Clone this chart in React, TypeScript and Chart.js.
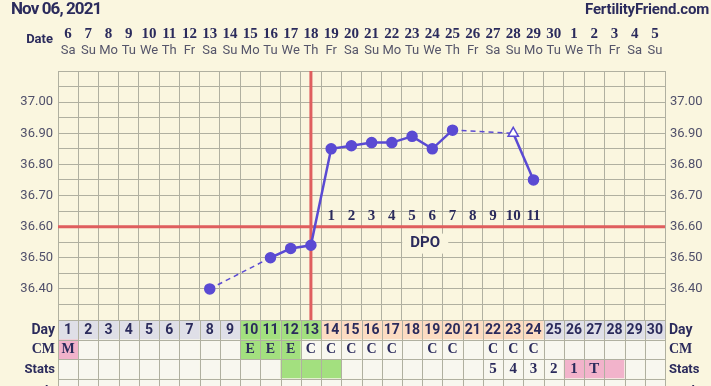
import React, { useEffect, useRef } from 'react';
import { Chart, registerables } from 'chart.js';

Chart.register(...registerables);

// ---- data ----
const headerDate = 'Nov 06, 2021';
const siteName = 'FertilityFriend.com';
const cycleDays = ['1','2','3','4','5','6','7','8','9','10','11','12','13','14','15','16','17','18','19','20','21','22','23','24','25','26','27','28','29','30'];
const calendarDates = ['6','7','8','9','10','11','12','13','14','15','16','17','18','19','20','21','22','23','24','25','26','27','28','29','30','1','2','3','4','5'];
const weekdays = ['Sa','Su','Mo','Tu','We','Th','Fr','Sa','Su','Mo','Tu','We','Th','Fr','Sa','Su','Mo','Tu','We','Th','Fr','Sa','Su','Mo','Tu','We','Th','Fr','Sa','Su'];
const temps: (number | null)[] = [null, null, null, null, null, null, null, 36.40, null, null, 36.50, 36.53, 36.54, 36.85, 36.86, 36.87, 36.87, 36.89, 36.85, 36.91, null, null, 36.90, 36.75, null, null, null, null, null, null];
const openPointDays = [23];
const coverline = 36.60;
const ovulationDay = 13;
const dpoLabels = ['1','2','3','4','5','6','7','8','9','10','11'];
const dpoStartDay = 14;
const yTickMin = 36.30;
const yTickMax = 37.10;
const yStep = 0.05;
// day-row phase: g = grey, f = fertile green, p = post-ovulation peach
const dayPhase = ['g','g','g','g','g','g','g','g','g','f','f','f','f','p','p','p','p','p','p','p','p','p','p','p','g','g','g','g','g','g'];
const cmValues = ['M','','','','','','','','','E','E','E','C','C','C','C','C','','C','C','','C','C','C','','','','','',''];
const cmColors = ['k','','','','','','','','','f','f','f','','','','','','','','','','','','','','','','','',''];
const statsValues = ['','','','','','','','','','','','','','','','','','','','','','5','4','3','2','1','T','','',''];
const statsColors = ['','','','','','','','','','','','f','f','f','','','','','','','','','','','','k','k','k','',''];

// ---- styles ----
const BG = '#faf6df';
const CELL = '#f8f7ef';
const GRID = '#b0b0a0';
const NAVY = '#2b2b5c';
const LINE = '#5a4ad3';
const RED = '#df5e5e';
const GREY = '#dfdfe7';
const GREEN = '#a3e07f';
const PEACH = '#fcdcc2';
const PINK = '#f2b3cb';
const TICK = '#50506a';

const colorFor = (c: string) => (c === 'f' ? GREEN : c === 'p' ? PEACH : c === 'g' ? GREY : c === 'k' ? PINK : CELL);

const decor = {
  id: 'ffDecor',
  beforeDraw(chart: any) {
    const { ctx, width, height } = chart;
    ctx.save();
    ctx.fillStyle = BG;
    ctx.fillRect(0, 0, width, height);
    ctx.restore();
  },
  beforeDatasetsDraw(chart: any) {
    const { ctx, chartArea: a } = chart;
    const xs = chart.scales.x;
    const ys = chart.scales.y;
    const yc = ys.getPixelForValue(coverline);
    const xo = xs.getPixelForValue(ovulationDay - 1);
    ctx.save();
    ctx.strokeStyle = RED;
    ctx.lineWidth = 3;
    ctx.beginPath();
    ctx.moveTo(a.left, yc);
    ctx.lineTo(a.right, yc);
    ctx.moveTo(xo, a.top);
    ctx.lineTo(xo, a.bottom);
    ctx.stroke();
    // DPO numbers
    ctx.fillStyle = NAVY;
    ctx.textAlign = 'center';
    ctx.textBaseline = 'middle';
    ctx.font = "bold 15px 'Liberation Serif'";
    dpoLabels.forEach((t, i) => {
      ctx.fillText(t, xs.getPixelForValue(dpoStartDay - 1 + i), yc - 11);
    });
    // DPO label
    const xd = xs.getPixelForValue(17.65);
    ctx.fillStyle = BG;
    ctx.fillRect(xd - 23, yc + 7, 46, 20);
    ctx.fillStyle = NAVY;
    ctx.font = "bold 15px Roboto";
    ctx.fillText('DPO', xd, yc + 17);
    ctx.restore();
  },
  afterDraw(chart: any) {
    const { ctx, chartArea: a, height } = chart;
    const xs = chart.scales.x;
    const colW = (a.right - a.left) / cycleDays.length;
    ctx.save();
    // header
    ctx.fillStyle = NAVY;
    ctx.textBaseline = 'middle';
    ctx.textAlign = 'left';
    ctx.font = 'bold 17px Roboto';
    (ctx as any).letterSpacing = '-0.9px';
    ctx.fillText(headerDate, 11, 10);
    ctx.textAlign = 'right';
    ctx.font = 'bold 15px Roboto';
    (ctx as any).letterSpacing = '-0.2px';
    ctx.fillText(siteName, 709, 10);
    (ctx as any).letterSpacing = '0px';
    // date row
    ctx.textAlign = 'right';
    ctx.font = 'bold 13px Roboto';
    ctx.fillText('Date', 53, 40);
    ctx.textAlign = 'center';
    calendarDates.forEach((d, i) => {
      const x = xs.getPixelForValue(i);
      ctx.fillStyle = NAVY;
      ctx.font = "bold 15px 'Liberation Serif'";
      ctx.fillText(d, x, 34);
      ctx.fillStyle = '#55556a';
      ctx.font = '13px Roboto';
      ctx.fillText(weekdays[i], x, 51);
    });
    // table
    const top = a.bottom;
    const rh = 19.5;
    const rows = [
      { label: 'Day', vals: cycleDays, cols: dayPhase, font: 'bold 14px Roboto', lfont: 'bold 14px Roboto' },
      { label: 'CM', vals: cmValues, cols: cmColors, font: "bold 14px 'Liberation Serif'", lfont: "bold 14px 'Liberation Serif'" },
      { label: 'Stats', vals: statsValues, cols: statsColors, font: "bold 15px 'Liberation Serif'", lfont: 'bold 13px Roboto' },
      { label: 'Meds', vals: cycleDays.map(() => ''), cols: cycleDays.map(() => ''), font: 'bold 13px Roboto', lfont: 'bold 13px Roboto' },
    ];
    rows.forEach((r, ri) => {
      const y0 = top + ri * rh;
      r.vals.forEach((v, i) => {
        const xc = xs.getPixelForValue(i);
        ctx.fillStyle = colorFor(r.cols[i]);
        ctx.fillRect(xc - colW / 2, y0, colW, rh);
      });
    });
    ctx.strokeStyle = GRID;
    ctx.lineWidth = 1;
    ctx.beginPath();
    for (let i = 0; i <= cycleDays.length; i++) {
      const x = Math.round(a.left + i * colW) + 0.5;
      ctx.moveTo(x, top);
      ctx.lineTo(x, height);
    }
    for (let ri = 0; ri <= rows.length; ri++) {
      const y = Math.round(top + ri * rh) + 0.5;
      ctx.moveTo(a.left, y);
      ctx.lineTo(a.right, y);
    }
    ctx.stroke();
    ctx.textBaseline = 'middle';
    rows.forEach((r, ri) => {
      const yc = top + ri * rh + rh / 2 + 0.5 + (ri === 3 ? 3 : 0);
      ctx.fillStyle = NAVY;
      ctx.font = r.lfont;
      ctx.textAlign = 'right';
      ctx.fillText(r.label, 55, yc);
      ctx.textAlign = 'left';
      ctx.fillText(r.label, 669, yc);
      ctx.textAlign = 'center';
      ctx.font = r.font;
      r.vals.forEach((v, i) => {
        if (v) ctx.fillText(v, xs.getPixelForValue(i), yc);
      });
    });
    ctx.restore();
  },
};

const tickLabel = (v: any) => {
  const k = Math.round(Number(v) * 100);
  if (k % 10 !== 0 || k === Math.round(yTickMin * 100) || k === Math.round(yTickMax * 100)) return '';
  return (k / 100).toFixed(2);
};

export default function App() {
  const ref = useRef<HTMLCanvasElement>(null);
  useEffect(() => {
    document.body.style.margin = '0';
    document.body.style.background = BG;
    const canvas = ref.current as HTMLCanvasElement;
    const isOpen = (i: number) => openPointDays.includes(i + 1);
    const dashed = (ctx: any, v: any) => (ctx.p0.skip || ctx.p1.skip ? v : undefined);
    const chart = new Chart(canvas, {
      type: 'line',
      data: {
        labels: cycleDays,
        datasets: [
          {
            data: temps,
            borderColor: LINE,
            borderWidth: 2.5,
            tension: 0,
            spanGaps: true,
            pointRadius: temps.map((_, i) => (isOpen(i) ? 6 : 5)),
            pointStyle: temps.map((_, i) => (isOpen(i) ? 'triangle' : 'circle')) as any,
            pointBackgroundColor: temps.map((_, i) => (isOpen(i) ? '#ffffff' : LINE)),
            pointBorderColor: LINE,
            pointBorderWidth: 1.5,
            segment: {
              borderDash: (ctx: any) => dashed(ctx, [5, 4]),
              borderWidth: (ctx: any) => dashed(ctx, 1.5),
            },
          } as any,
        ],
      },
      options: {
        responsive: false,
        animation: false,
        devicePixelRatio: 1,
        layout: { padding: { top: 71, bottom: 66, left: 0, right: 0 } },
        plugins: { legend: { display: false }, tooltip: { enabled: false } },
        scales: {
          x: {
            type: 'category',
            offset: true,
            grid: { offset: true, color: GRID, drawTicks: false },
            border: { color: GRID },
            ticks: { display: false },
            afterFit: (s: any) => { s.height = 0; },
          },
          y: {
            position: 'left',
            min: yTickMin,
            max: yTickMax,
            ticks: { stepSize: yStep, autoSkip: false, padding: 5, color: TICK, font: { family: 'Roboto', size: 13 }, callback: tickLabel },
            grid: { color: GRID, drawTicks: false },
            border: { color: GRID },
            afterFit: (s: any) => { s.width = 58; },
          },
          y2: {
            position: 'right',
            min: yTickMin,
            max: yTickMax,
            ticks: { stepSize: yStep, autoSkip: false, padding: 5, color: TICK, font: { family: 'Roboto', size: 13 }, callback: tickLabel },
            grid: { display: false, drawTicks: false },
            border: { display: false },
            afterFit: (s: any) => { s.width = 46; },
          },
        } as any,
      },
      plugins: [decor as any],
    });
    return () => chart.destroy();
  }, []);
  return (
    <canvas
      ref={ref}
      width={711}
      height={386}
      style={{ position: 'fixed', left: 0, top: 0, width: 711, height: 386, display: 'block' }}
    />
  );
}
